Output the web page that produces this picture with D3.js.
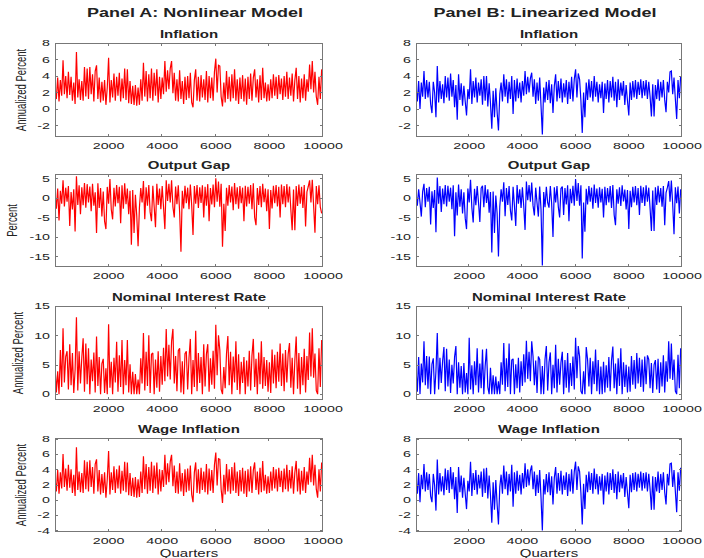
<!DOCTYPE html>
<html>
<head>
<meta charset="utf-8">
<script src="https://cdn.jsdelivr.net/npm/d3@7/dist/d3.min.js"></script>
<style>
  html, body { margin: 0; padding: 0; background: #fff; }
  svg { display: block; }
  text { font-family: "Liberation Sans", Arial, Helvetica, sans-serif; }
</style>
</head>
<body>
<svg id="chart" width="704" height="558"></svg>
<script>
// Simulated paths, one value every 50 quarters (0 .. 9950).
const quarterStep = 50;
const xTicks = [2000, 4000, 6000, 8000, 10000];
const panelTitles = ["Panel A: Nonlinear Model", "Panel B: Linearized Model"];
const rowTitles = ["Inflation", "Output Gap", "Nominal Interest Rate", "Wage Inflation"];
const rowYLabels = ["Annualized Percent", "Percent", "Annualized Percent", "Annualized Percent"];
const rowYTicks = [[-2, 0, 2, 4, 6, 8], [-15, -10, -5, 0, 5], [0, 5, 10, 15], [-4, -2, 0, 2, 4, 6, 8]];
const rowYDomains = [[-3.4, 8], [-17.7, 6.1], [-1, 15], [-4.2, 8.1]];

const inflationA = [
  2.6,1.2,3.8,0.9,3.5,1.6,5.9,1.8,4.0,1.3,4.5,1.7,3.9,1.0,3.2,0.6,6.9,1.4,3.6,1.1,
  3.4,1.0,5.1,1.5,4.9,1.2,5.1,1.8,4.2,0.9,4.6,5.3,1.2,3.8,0.8,3.3,1.0,3.5,0.5,2.6,
  6.2,0.8,3.5,1.4,4.3,1.0,3.9,1.6,4.4,0.9,3.7,1.3,4.9,1.1,4.8,0.7,3.4,0.6,2.8,0.5,
  2.9,0.4,2.6,0.5,3.6,1.0,5.6,1.5,4.6,0.9,4.2,1.3,4.9,1.0,4.4,1.6,4.8,0.8,3.9,1.2,
  3.8,1.8,5.8,2.1,4.7,2.4,4.9,5.8,1.9,4.4,1.0,3.6,0.9,4.7,1.2,3.4,0.6,3.9,1.1,4.0,
  1.3,4.4,0.8,0.2,3.5,4.8,1.0,3.9,0.9,4.1,1.4,3.6,1.1,4.6,0.8,4.0,1.3,3.8,1.0,4.5,
  6.1,2.0,5.3,5.2,1.5,0.3,3.2,0.8,4.6,1.2,3.9,0.9,4.2,1.3,4.8,1.0,3.6,0.6,3.8,1.2,
  4.1,0.9,3.7,0.5,3.9,1.2,4.3,1.0,3.8,4.8,1.4,3.6,0.8,4.1,1.1,5.0,1.3,3.2,0.9,3.0,
  1.0,3.6,1.3,4.2,1.6,3.9,1.2,4.1,1.8,3.7,1.1,4.0,1.5,4.5,1.2,3.8,1.6,4.3,0.9,3.5,
  5.0,1.2,4.0,0.8,3.7,1.3,4.2,1.0,3.6,2.1,5.4,2.4,5.8,2.0,4.5,1.5,0.5,3.9,1.2,4.8
];
const inflationB = [
  2.7,0.9,3.4,0.0,3.2,1.5,4.6,1.2,3.5,1.4,3.3,0.6,-0.5,3.3,2.0,-1.0,5.2,0.8,3.4,1.2,
  3.0,0.7,4.0,1.4,3.8,1.0,4.3,1.5,3.5,0.2,2.9,-1.3,4.2,1.1,3.1,0.4,2.8,0.9,-0.8,2.4,
  1.2,4.8,0.6,3.4,1.4,3.8,0.8,3.2,1.6,3.6,0.5,4.0,1.0,4.0,0.3,3.1,0.7,-2.4,2.2,-1.0,
  2.5,-0.4,-2.6,1.8,3.2,0.9,4.2,1.5,3.6,0.7,3.3,1.2,4.0,-0.6,3.5,0.9,3.7,1.3,3.2,0.8,
  3.4,1.6,4.6,1.8,3.9,2.0,3.7,4.4,1.5,3.6,0.6,3.2,1.0,3.8,0.4,-3.1,2.6,0.8,3.3,1.1,
  3.5,0.7,3.0,-0.5,2.8,4.2,0.9,3.4,1.3,3.7,0.8,3.1,1.4,3.5,0.6,3.3,1.2,3.9,0.9,3.6,
  4.8,1.4,4.3,3.6,1.0,-2.9,2.0,-1.0,3.2,1.1,3.6,1.4,3.4,0.9,4.0,1.5,3.3,0.8,3.0,1.3,
  3.3,-0.5,3.1,1.2,3.5,0.8,3.4,1.4,3.9,1.0,3.3,0.2,3.6,1.1,3.2,1.6,3.4,0.5,2.9,1.0,
  -0.8,3.2,1.1,3.4,1.4,3.5,1.2,3.3,1.7,3.6,1.3,3.4,1.6,3.5,1.2,3.3,1.5,-0.9,3.0,-0.9,
  2.9,1.2,3.6,1.0,3.3,1.4,3.5,1.1,-0.4,3.3,2.0,4.5,4.6,1.8,3.8,1.2,-1.2,3.5,1.3,4.0
];
const outputGapA = [
  1.2,-2.8,2.4,-5.8,1.8,-1.5,4.5,-2.2,2.6,-1.0,3.0,-7.2,1.5,-3.0,2.2,-8.6,5.5,-1.8,3.2,-4.2,
  2.7,-1.9,3.8,-2.5,3.5,-1.2,2.9,-3.4,3.6,-2.0,1.4,-9.0,3.7,-2.6,2.5,-4.8,1.6,-6.0,-8.0,2.8,
  -1.5,4.8,-3.0,-5.5,2.6,-2.2,3.3,-1.4,2.8,-6.5,3.2,-2.8,3.7,-1.6,2.4,-4.2,1.8,-12.0,2.0,-9.0,
  0.8,-4.5,-12.4,-2.5,2.5,-1.2,4.3,-5.5,2.7,-2.0,3.3,-3.6,-6.0,3.1,-2.2,-7.5,3.6,-1.8,2.4,-2.9,
  3.0,-2.4,-8.0,4.5,-0.8,3.6,-1.2,4.5,-2.3,-5.0,2.9,-1.6,3.2,-3.5,-13.8,1.8,-2.7,3.1,-1.4,2.6,
  -2.9,3.4,-1.8,-9.5,3.0,-1.5,3.3,-2.6,2.7,-1.3,3.2,-5.0,2.8,-2.0,3.5,-6.0,2.5,-1.7,3.4,-2.4,
  5.0,-1.0,4.2,-2.3,3.6,-12.5,-1.5,-8.5,2.6,-2.0,3.3,-1.2,2.9,-3.2,3.8,-1.6,2.7,-2.8,3.0,-1.4,
  2.6,-6.0,3.1,-2.2,2.8,-1.5,3.3,-2.9,3.7,-5.0,-7.0,2.5,-1.8,3.0,-2.4,3.6,-1.1,2.4,-3.4,2.2,
  -8.0,2.0,-2.7,3.1,-1.4,3.3,-2.2,2.8,-5.0,3.4,-1.6,3.0,-2.4,3.5,-1.2,2.9,-3.0,-8.3,2.1,-8.3,
  3.0,-2.1,3.4,-1.5,2.8,-2.6,3.3,-7.3,1.5,2.9,4.5,-1.2,4.6,-2.0,-8.9,3.0,-1.6,3.2,-2.4,-4.0
];
const outputGapB = [
  1.4,-2.0,2.2,-1.2,-4.8,1.6,3.6,-2.4,2.5,-1.0,2.8,-6.8,1.7,-2.6,2.0,-8.8,5.2,-1.5,3.0,-3.6,
  2.4,-1.6,3.3,-2.2,3.1,-1.0,2.6,-2.9,3.2,-9.8,1.4,-4.5,3.4,-2.3,2.2,-4.0,1.4,-5.2,-8.0,2.4,
  -1.2,4.6,-2.5,-6.3,2.3,-1.9,3.0,-1.2,-6.2,2.5,3.1,-2.4,3.3,-1.3,2.2,-3.8,1.5,-14.0,1.6,-9.0,
  0.6,-4.0,-15.0,-2.2,2.2,-1.0,4.0,-4.7,2.5,-1.8,3.0,-3.2,-5.8,2.8,-2.0,-7.2,3.3,-1.5,2.2,-2.6,
  2.7,-2.1,-8.2,4.2,-0.6,3.3,-1.0,3.9,-2.0,-4.5,2.6,-1.3,-4.8,2.9,-3.0,-17.3,1.5,-2.4,2.8,-1.2,
  -2.5,3.0,-1.5,-10.0,2.7,-1.2,3.0,-2.3,-5.0,2.4,2.9,-4.4,2.5,-1.7,3.2,-6.0,2.3,-1.4,3.1,-2.0,
  4.8,-0.8,3.8,-2.0,3.2,-15.5,-1.2,-8.7,2.3,-1.7,3.0,-1.0,2.6,-2.8,3.4,-1.3,2.4,-2.5,2.7,-1.2,
  2.3,-5.0,2.8,-1.9,2.5,-1.2,3.0,-2.6,3.3,-4.4,-7.0,2.2,-1.5,2.7,-2.1,3.2,-0.9,2.1,-3.0,2.0,
  -8.0,1.8,-2.4,2.8,-1.2,3.0,-1.9,2.5,-4.4,3.1,-1.3,2.7,-2.1,3.2,-1.0,2.6,-2.7,-8.5,1.9,-8.5,
  2.7,-1.8,3.1,-1.2,2.5,-2.3,3.0,-7.0,1.3,2.6,4.3,-1.0,4.4,-1.7,-9.3,2.7,-1.4,2.9,-4.0,2.2
];
const interestRateA = [
  4.8,0.3,3.9,0.0,7.5,1.2,11.2,2.0,6.4,7.3,0.8,8.5,1.5,7.0,0.2,4.1,13.1,0.6,7.3,1.8,
  6.2,9.5,0.4,8.6,1.7,7.8,0.0,5.9,2.2,7.1,0.3,9.8,1.4,6.3,0.0,5.2,6.0,0.2,4.4,0.0,
  11.9,1.1,5.5,0.0,6.2,2.0,8.9,0.4,6.6,1.2,9.2,0.0,5.8,1.5,9.2,0.3,5.1,0.0,3.8,0.0,
  3.4,0.0,2.5,0.0,6.1,1.8,10.4,0.6,7.2,1.4,10.0,0.2,6.8,7.0,0.0,5.9,1.1,7.3,0.4,6.5,
  1.6,7.9,2.2,11.1,3.0,8.4,2.5,9.0,11.1,1.8,6.5,0.5,7.4,7.8,0.3,5.6,0.0,6.9,7.3,0.8,
  6.2,9.4,0.0,5.8,1.2,10.8,0.5,7.0,1.9,6.3,0.0,8.5,1.3,6.8,8.5,0.4,6.1,1.6,7.4,0.9,
  11.8,3.2,10.0,7.5,0.8,0.0,4.6,1.0,6.9,9.9,1.5,7.2,0.0,6.4,2.0,9.0,0.7,6.8,0.0,5.5,
  1.9,6.3,0.0,5.7,1.3,7.4,0.6,6.6,9.4,1.2,6.0,0.0,7.1,1.7,9.0,0.9,6.3,1.4,5.8,0.4,
  5.4,0.2,7.6,1.8,6.7,1.0,7.2,2.1,8.6,1.4,6.9,0.5,7.5,2.0,6.8,8.7,1.1,6.2,0.0,5.8,
  9.8,0.9,7.0,0.0,6.3,1.5,7.7,0.3,6.5,2.4,10.5,3.0,11.2,2.8,6.9,0.6,0.0,7.8,1.2,9.2
];
const interestRateB = [
  4.3,0.4,6.3,0.0,5.2,2.0,9.0,1.5,6.5,0.9,6.4,0.0,5.1,6.1,0.0,3.9,10.4,0.8,6.2,1.9,
  5.6,8.0,0.5,7.7,1.3,5.9,0.2,5.0,1.8,6.3,8.2,0.0,5.4,1.1,4.8,0.0,5.3,0.3,3.6,0.0,
  9.6,0.8,4.9,0.0,5.6,1.5,7.8,0.3,5.2,1.0,7.6,0.0,4.8,7.7,1.2,0.0,4.5,0.0,3.2,0.0,
  3.0,0.0,2.2,0.0,5.4,1.6,8.7,0.5,6.1,1.2,8.6,0.0,5.8,6.0,0.0,5.1,1.0,6.2,0.3,5.6,
  1.4,6.8,2.0,9.1,2.6,7.2,2.2,9.0,6.4,1.5,5.7,0.2,6.4,5.9,0.0,4.8,0.0,5.9,8.2,0.6,
  5.4,7.1,0.0,5.0,1.0,8.4,0.3,6.0,1.6,5.4,7.2,0.0,5.8,1.1,7.0,0.3,5.3,1.4,6.4,0.8,
  9.6,2.7,8.2,6.4,0.5,0.0,3.9,0.0,8.0,5.9,1.3,6.2,0.0,5.6,1.7,7.6,0.5,5.8,0.0,4.7,
  0.0,5.5,0.3,4.9,1.1,6.3,0.5,5.7,8.1,1.0,5.2,0.0,6.1,1.4,7.8,0.0,5.4,1.2,5.0,0.3,
  4.7,0.4,6.5,1.6,5.8,0.9,7.0,1.8,6.2,1.2,5.9,0.4,6.4,1.7,6.6,5.9,1.0,5.3,0.2,5.0,
  5.8,0.8,6.0,0.2,5.4,1.3,6.6,0.3,5.6,2.1,9.0,2.6,8.6,2.4,5.9,0.5,0.0,6.7,1.0,7.8
];
const wageInflationA = [
  2.8,1.1,3.9,0.8,3.6,1.5,6.0,1.7,4.1,1.2,4.6,1.6,4.0,0.9,3.3,0.5,6.9,1.3,3.7,1.0,
  3.5,0.9,5.2,1.4,5.0,1.1,5.2,1.7,4.3,0.8,4.7,5.3,1.1,3.9,0.7,3.4,0.9,3.6,0.3,2.7,
  6.4,0.7,3.6,1.3,4.4,0.9,4.0,1.5,4.5,0.8,3.8,1.2,5.0,1.0,4.9,0.6,3.5,0.5,2.9,0.4,
  3.0,0.3,2.7,0.4,3.7,0.9,5.7,1.4,4.7,0.8,4.3,1.2,5.0,0.9,4.5,1.5,4.9,0.7,4.0,1.1,
  3.9,1.7,5.9,2.0,4.8,2.3,5.0,5.9,1.8,4.5,0.9,3.7,0.8,4.8,1.1,3.5,0.5,4.0,1.0,4.1,
  1.2,4.5,0.7,-0.3,3.6,4.9,0.9,4.0,0.8,4.2,1.3,3.7,1.0,4.7,0.7,4.1,1.2,3.9,0.9,4.6,
  6.2,1.9,5.4,5.3,1.4,-0.4,3.3,0.7,4.7,1.1,4.0,0.8,4.3,1.2,4.9,0.9,3.7,0.5,3.9,1.1,
  4.2,0.8,3.8,0.4,4.0,1.1,4.4,0.9,3.9,4.9,1.3,3.7,0.7,4.2,1.0,5.1,1.2,3.3,0.8,3.1,
  0.9,3.7,1.2,4.3,1.5,4.0,1.1,4.2,1.7,3.8,1.0,4.1,1.4,4.6,1.1,3.9,1.5,4.4,0.8,3.6,
  5.1,1.1,4.1,0.7,3.8,1.2,4.3,0.9,3.7,2.0,5.5,2.3,5.9,1.9,4.6,1.4,0.3,4.0,1.1,4.9
];
const wageInflationB = [
  2.8,0.8,3.5,-0.3,3.3,1.4,4.7,1.1,3.6,1.3,3.4,0.5,-0.3,3.4,1.9,-1.4,5.3,0.7,3.5,1.1,
  3.1,0.6,4.1,1.3,3.9,0.9,4.3,1.4,3.6,0.1,3.0,-1.7,4.3,1.0,3.2,0.3,2.9,0.8,-1.2,2.5,
  1.1,5.0,0.5,3.5,1.3,3.9,0.7,3.3,1.5,3.7,0.4,4.1,0.9,4.2,0.2,3.2,0.6,-3.0,2.3,-1.3,
  2.6,-0.6,-3.2,1.7,3.3,0.8,4.5,1.4,3.7,0.6,3.4,1.1,4.6,-0.9,3.6,0.8,3.8,1.2,3.3,0.7,
  3.5,1.5,4.8,1.7,4.0,1.9,3.8,4.5,1.4,3.7,0.5,3.3,0.9,3.9,0.3,-4.0,2.7,0.7,3.4,1.0,
  3.6,0.6,3.1,-0.6,2.9,4.3,0.8,3.5,1.2,3.8,0.7,3.2,1.3,3.6,0.5,3.4,1.1,4.0,0.8,3.7,
  5.0,1.3,4.4,3.7,0.9,-3.2,2.1,-1.2,3.3,1.0,3.7,1.3,3.5,0.8,4.1,1.4,3.4,0.7,3.1,1.2,
  3.4,-0.6,3.2,1.1,3.6,0.7,3.5,1.3,4.0,0.9,3.4,0.1,3.7,1.0,3.3,1.5,3.5,0.4,3.0,0.9,
  -1.1,3.3,1.0,3.5,1.3,3.6,1.1,3.4,1.6,3.7,1.2,3.5,1.5,3.6,1.1,3.4,1.4,-1.3,3.1,-1.3,
  3.0,1.1,3.7,0.9,3.4,1.3,3.6,1.0,-0.6,3.4,1.9,4.7,4.8,1.7,3.9,1.1,-1.6,3.6,1.2,4.2
];

const seriesGrid = [
  [inflationA, inflationB],
  [outputGapA, outputGapB],
  [interestRateA, interestRateB],
  [wageInflationA, wageInflationB]
];

// ---- layout ----
const columns = [
  { left: 55,  right: 323, color: "#ff0000", titleX: 195 },
  { left: 416, right: 682, color: "#0000ff", titleX: 545 }
];
const rowsBox = [
  { top: 43,  bottom: 137, yLabelX: 22 },
  { top: 174, bottom: 267, yLabelX: 13.5 },
  { top: 306, bottom: 400, yLabelX: 19.5 },
  { top: 438, bottom: 532, yLabelX: 22 }
];
const SX = 1.5;            // horizontal text stretch
const frameColor = "#777";
const textColor = "#222";
const tickLen = 3;

const svg = d3.select("#chart");

function label(parent, x, y, str, o) {
  return parent.append("text")
    .attr("transform", `translate(${x},${y}) scale(${SX},1)` + (o.rotate ? ` rotate(${o.rotate})` : ""))
    .attr("text-anchor", o.anchor || "middle")
    .attr("font-size", o.size)
    .attr("font-weight", o.weight || "normal")
    .attr("fill", textColor)
    .text(str);
}

// panel headings
panelTitles.forEach((t, c) => {
  label(svg, columns[c].titleX, 16.5, t, { size: 12, weight: "bold" });
});

const defs = svg.append("defs");

rowsBox.forEach((rb, r) => {
  columns.forEach((col, c) => {
    const x = d3.scaleLinear().domain([0, 10000]).range([col.left, col.right]);
    const y = d3.scaleLinear().domain(rowYDomains[r]).range([rb.bottom, rb.top]);
    const g = svg.append("g");
    const clipId = `clip-${r}-${c}`;
    defs.append("clipPath").attr("id", clipId)
      .append("rect")
      .attr("x", col.left).attr("y", rb.top)
      .attr("width", col.right - col.left).attr("height", rb.bottom - rb.top);

    const values = seriesGrid[r][c];
    const line = d3.line()
      .x((d, i) => x(i * quarterStep))
      .y(d => y(d));
    g.append("path")
      .datum(values)
      .attr("clip-path", `url(#${clipId})`)
      .attr("fill", "none")
      .attr("stroke", col.color)
      .attr("stroke-width", 1.2)
      .attr("stroke-linejoin", "miter")
      .attr("stroke-miterlimit", 2)
      .attr("d", line);

    // axes box
    g.append("rect")
      .attr("x", col.left + 0.5).attr("y", rb.top + 0.5)
      .attr("width", col.right - col.left - 1).attr("height", rb.bottom - rb.top - 1)
      .attr("fill", "none").attr("stroke", frameColor).attr("stroke-width", 1);

    // inward ticks on all four sides
    rowYTicks[r].forEach(v => {
      const yy = Math.round(y(v)) + 0.5;
      g.append("line").attr("x1", col.left).attr("x2", col.left + tickLen)
        .attr("y1", yy).attr("y2", yy).attr("stroke", frameColor);
      g.append("line").attr("x1", col.right - tickLen).attr("x2", col.right)
        .attr("y1", yy).attr("y2", yy).attr("stroke", frameColor);
      label(g, col.left - 5, y(v) + 3.3, String(v), { size: 9.5, anchor: "end" });
    });
    xTicks.forEach(v => {
      const xx = Math.round(x(v)) - 0.5;
      g.append("line").attr("x1", xx).attr("x2", xx)
        .attr("y1", rb.bottom).attr("y2", rb.bottom - tickLen).attr("stroke", frameColor);
      g.append("line").attr("x1", xx).attr("x2", xx)
        .attr("y1", rb.top).attr("y2", rb.top + tickLen).attr("stroke", frameColor);
      label(g, x(v), rb.bottom + 12, String(v), { size: 9.5 });
    });

    // subplot title
    label(g, (col.left + col.right) / 2, rb.top - 5, rowTitles[r], { size: 10, weight: "bold" });

    if (c === 0) {
      label(g, rb.yLabelX + 3.5, (rb.top + rb.bottom) / 2, rowYLabels[r], { size: 9.5, rotate: -90 });
    }
    if (r === rowsBox.length - 1) {
      label(g, (col.left + col.right) / 2, 556.5, "Quarters", { size: 10 });
    }
  });
});
</script>
</body>
</html>
